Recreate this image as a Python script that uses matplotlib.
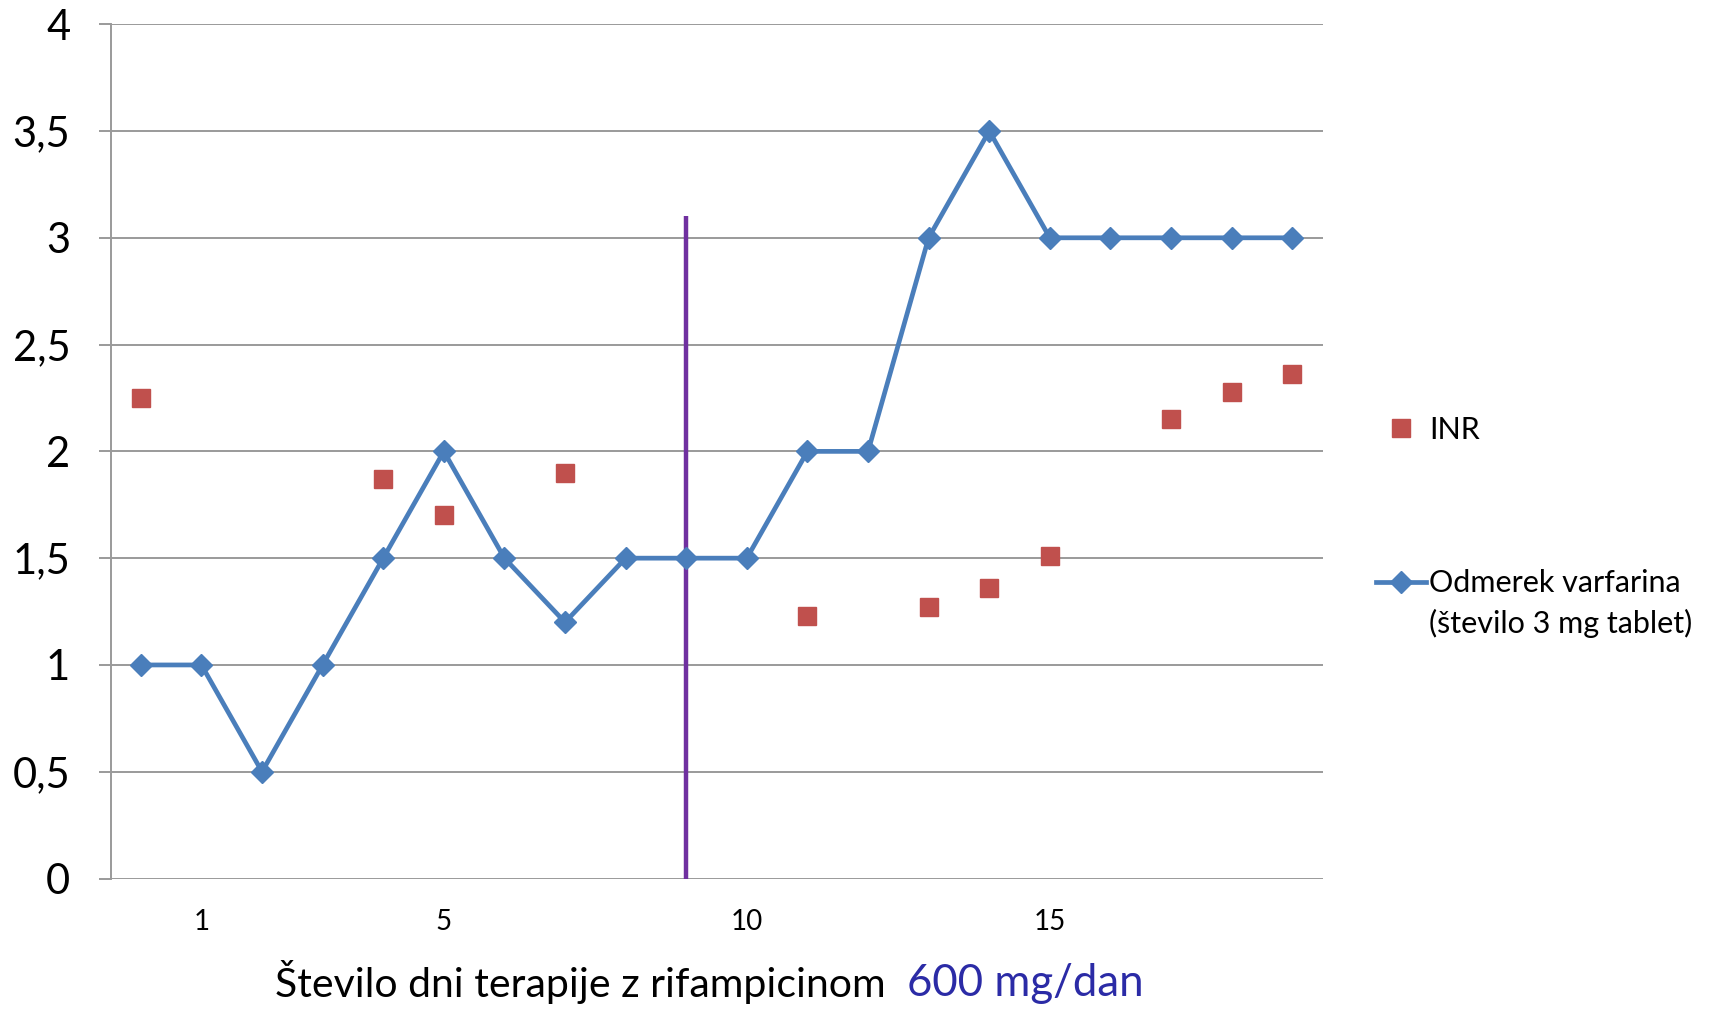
import matplotlib.pyplot as plt
from matplotlib.lines import Line2D
from matplotlib.ticker import FuncFormatter

# --- warfarin / INR chart ---

days = list(range(20))
day_labels = ['', '1', '', '', '', '5', '', '', '', '', '10', '', '', '', '', '15', '', '', '', '']

dose = [1, 1, 0.5, 1, 1.5, 2, 1.5, 1.2, 1.5, 1.5, 1.5, 2, 2, 3, 3.5, 3, 3, 3, 3, 3]

inr_days = [0, 4, 5, 7, 11, 13, 14, 15, 17, 18, 19]
inr = [2.25, 1.87, 1.70, 1.90, 1.23, 1.27, 1.36, 1.51, 2.15, 2.28, 2.36]

start_day = 9
start_top = 3.1

plt.rcParams['font.family'] = ['Lato', 'DejaVu Sans']

fig = plt.figure(figsize=(17.27, 10.09), dpi=100)
ax = fig.add_axes([0.064, 0.1293, 0.7018, 0.8467])

blue = '#4a7ebb'
red = '#c0504d'
grid_c = '#9a9a9a'

ax.plot(days, dose, color=blue, linewidth=3.4, marker='D', markersize=11.5,
        zorder=3)
ax.plot(inr_days, inr, linestyle='none', marker='s', markersize=13,
        color=red, zorder=3)
ax.vlines(start_day, 0, start_top, color='#7030a0', linewidth=3.2, zorder=2)

ax.set_xlim(-0.5, 19.5)
ax.set_ylim(0, 4)
ax.set_yticks([0, 0.5, 1, 1.5, 2, 2.5, 3, 3.5, 4])
ax.yaxis.set_major_formatter(FuncFormatter(lambda v, p: ('%g' % v).replace('.', ',')))
ax.set_xticks(days)
ax.set_xticklabels(day_labels)

ax.grid(True, axis='y', color=grid_c, linewidth=1.4)
ax.set_axisbelow(True)
for s in ['top', 'right', 'bottom']:
    ax.spines[s].set_visible(False)
ax.spines['left'].set_color(grid_c)
ax.spines['left'].set_linewidth(1.4)
ax.tick_params(axis='y', length=9, color=grid_c, width=1.4, labelsize=30, pad=20)
ax.tick_params(axis='x', length=0, labelsize=20, pad=22)

# legend (second line of the dose label sits under the first one)
handles = [
    Line2D([], [], linestyle='none', marker='s', markersize=13, color=red),
    Line2D([], [], color=blue, linewidth=3.4, marker='D', markersize=11.5),
]
labels = ['INR', 'Odmerek varfarina']
leg = fig.legend(handles, labels, loc='upper left', bbox_to_anchor=(0.781, 0.615),
                 frameon=False, fontsize=22, labelspacing=4.1, handlelength=1.63,
                 handletextpad=0.1, numpoints=1)

fig.canvas.draw()
bb = leg.get_texts()[1].get_window_extent().transformed(fig.transFigure.inverted())
fig.text(bb.x0, 0.382, '(število 3 mg tablet)', fontsize=22, va='center', ha='left')

# x-axis title in two colours
t = fig.text(0.159, 0.012, 'Število dni terapije z rifampicinom', fontsize=29.5,
             color='black', va='baseline', ha='left')
ax.annotate('600 mg/dan', xy=(1, 0), xycoords=t, xytext=(16, 0),
            textcoords='offset points', fontsize=31.5, color='#2b2ba6',
            va='bottom', ha='left')

plt.savefig('out.png', dpi=100)
